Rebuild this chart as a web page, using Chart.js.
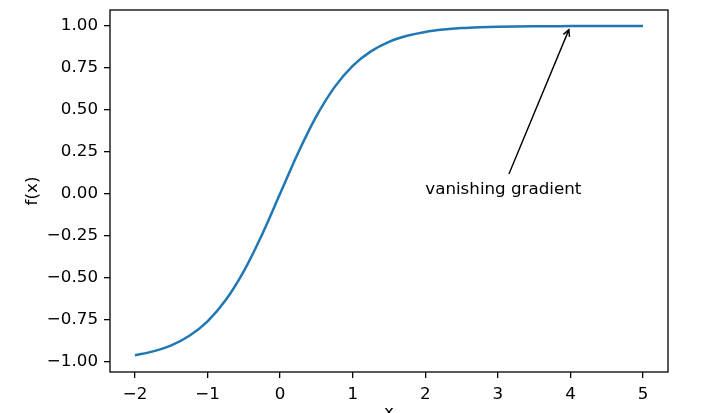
<!DOCTYPE html>
<html>
<head>
<meta charset="utf-8">
<script src="https://cdn.jsdelivr.net/npm/chart.js@4"></script>
<style>
  html, body { margin: 0; padding: 0; background: #fff; }
  canvas { display: block; }
</style>
</head>
<body>
<canvas id="chart" width="723" height="413"></canvas>
<script>
// values
const xValues = [-2, -1.75, -1.5, -1.25, -1, -0.75, -0.5, -0.25, 0, 0.25, 0.5, 0.75, 1, 1.25, 1.5, 1.75, 2, 2.25, 2.5, 2.75, 3, 3.5, 4, 4.5, 5];
const yValues = [-0.964, -0.941, -0.905, -0.848, -0.762, -0.635, -0.462, -0.245, 0, 0.245, 0.462, 0.635, 0.762, 0.848, 0.905, 0.941, 0.964, 0.978, 0.987, 0.992, 0.995, 0.998, 0.999, 1.0, 1.0];

const xTicks = [-2, -1, 0, 1, 2, 3, 4, 5];
const yTicks = [-1, -0.75, -0.5, -0.25, 0, 0.25, 0.5, 0.75, 1];

const annotationText = "vanishing gradient";
const annotationFrom = { x: 2, y: 0 };
const annotationTo = { x: 4, y: 1 };

const FONT = { family: "'DejaVu Sans', sans-serif", size: 16.7 };

function minus(s) {
  return String(s).replace("-", "\u2212");
}

const framePlugin = {
  id: "frame",
  afterDraw(chart) {
    const { ctx, chartArea: a, scales } = chart;
    ctx.save();
    ctx.strokeStyle = "#000";
    ctx.lineWidth = 1.3;
    ctx.strokeRect(a.left, a.top, a.right - a.left, a.bottom - a.top);

    // annotation text
    ctx.font = `${FONT.size}px ${FONT.family}`;
    ctx.fillStyle = "#000";
    ctx.textAlign = "left";
    ctx.textBaseline = "alphabetic";
    const tx = scales.x.getPixelForValue(annotationFrom.x);
    const ty = scales.y.getPixelForValue(annotationFrom.y);
    ctx.fillText(annotationText, tx, ty);

    // arrow from text box to target
    const w = ctx.measureText(annotationText).width;
    const top = ty - 15;
    const cx = tx + w / 2;
    const cy = ty - 6;
    const px = scales.x.getPixelForValue(annotationTo.x);
    const py = scales.y.getPixelForValue(annotationTo.y);
    const dx = px - cx;
    const dy = py - cy;
    const len = Math.hypot(dx, dy);
    const ux = dx / len;
    const uy = dy / len;
    const t0 = (top - cy) / dy;
    const sx = cx + dx * t0 + ux * 5;
    const sy = cy + dy * t0 + uy * 5;
    const ex = px - ux * 4;
    const ey = py - uy * 4;
    ctx.lineWidth = 1.4;
    ctx.strokeStyle = "#000";
    ctx.beginPath();
    ctx.moveTo(sx, sy);
    ctx.lineTo(ex, ey);
    const hl = 6.5, hw = 3.3;
    ctx.moveTo(ex - ux * hl - uy * hw, ey - uy * hl + ux * hw);
    ctx.lineTo(ex, ey);
    ctx.lineTo(ex - ux * hl + uy * hw, ey - uy * hl - ux * hw);
    ctx.stroke();
    ctx.restore();
  },
};

new Chart(document.getElementById("chart"), {
  type: "scatter",
  data: {
    datasets: [
      {
        data: xValues.map((x, i) => ({ x, y: yValues[i] })),
        showLine: true,
        borderColor: "#1f77b4",
        borderWidth: 2.5,
        pointRadius: 0,
        cubicInterpolationMode: "monotone",
      },
    ],
  },
  options: {
    responsive: false,
    animation: false,
    layout: { padding: { top: 10, right: 55, left: 0, bottom: 0 } },
    plugins: { legend: { display: false }, tooltip: { enabled: false } },
    scales: {
      x: {
        type: "linear",
        min: -2.344,
        max: 5.344,
        afterBuildTicks: (s) => { s.ticks = xTicks.map((v) => ({ value: v })); },
        afterFit: (s) => { s.height = 41; s.paddingLeft = 0; s.paddingRight = 0; },
        border: { display: false },
        grid: { drawOnChartArea: false, drawTicks: true, tickLength: 6, lineWidth: 1.3, color: "#000" },
        ticks: { color: "#000", font: FONT, padding: 7, maxRotation: 0, callback: (v) => minus(v) },
        title: { display: true, text: "x", color: "#000", font: FONT, padding: { top: 0, bottom: -10 } },
      },
      y: {
        type: "linear",
        min: -1.064,
        max: 1.095,
        afterBuildTicks: (s) => { s.ticks = yTicks.map((v) => ({ value: v })); },
        afterFit: (s) => { s.width = 110; s.paddingTop = 0; s.paddingBottom = 0; },
        border: { display: false },
        grid: { drawOnChartArea: false, drawTicks: true, tickLength: 6, lineWidth: 1.3, color: "#000" },
        ticks: { color: "#000", font: FONT, padding: 6, callback: (v) => minus(Number(v).toFixed(2)) },
        title: { display: true, text: "f(x)", color: "#000", font: FONT, padding: { top: 23, bottom: 0 } },
      },
    },
  },
  plugins: [framePlugin],
});
</script>
</body>
</html>
